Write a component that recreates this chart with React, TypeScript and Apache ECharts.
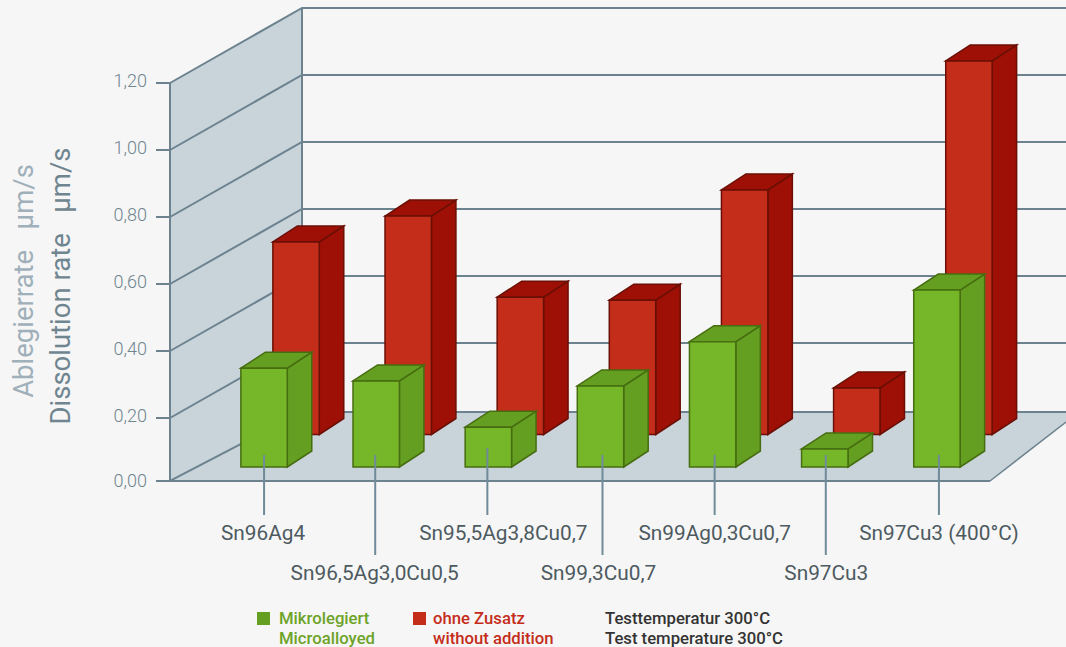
import React, { useEffect, useRef } from "react";
import * as echarts from "echarts";

const categories = ["Sn96Ag4", "Sn96,5Ag3,0Cu0,5", "Sn95,5Ag3,8Cu0,7", "Sn99,3Cu0,7", "Sn99Ag0,3Cu0,7", "Sn97Cu3", "Sn97Cu3 (400°C)"];
const microalloyed = [0.295, 0.257, 0.119, 0.242, 0.374, 0.054, 0.528];
const withoutAddition = [0.575, 0.652, 0.41, 0.401, 0.73, 0.139, 1.115];
const gridTicks = [0.2, 0.4, 0.6, 0.8, 1.0, 1.2];

const FONT = "Roboto";
const LINE = "#6c838f";
const PANEL = "#c8d3da";
const AX_LEFT = 170;
const AX_RIGHT = 990;
const BACK_DX = 132;
const BACK_DY = 75;
const FLOOR_DY = 69;
const FLOOR_VALUE = 0.012;
const BAR_W = 46.4;
const SIDE_DX = 24.5;
const SIDE_DY = 16;
const labelShift = [-2, -3, 30, -4, 4, 3, 4];
const leaderShift = [0, -1, -1, 2, 2, 1, 2];

const barRenderer = (shiftX: number, shiftY: number, front: string, dark: string, edge: string) => (_p: any, api: any) => {
  const i = api.value(0);
  const base = api.coord([i, 0]);
  const top = api.coord([i, api.value(1)]);
  const xl = base[0] + shiftX - BAR_W / 2;
  const xr = xl + BAR_W;
  const yb = base[1] - shiftY;
  const yt = top[1] - shiftY;
  const style = { lineWidth: 1.5, stroke: edge, lineJoin: "miter" };
  return {
    type: "group",
    children: [
      { type: "polygon", shape: { points: [[xr, yb], [xr + SIDE_DX, yb - SIDE_DY], [xr + SIDE_DX, yt - SIDE_DY], [xr, yt]] }, style: { ...style, fill: dark } },
      { type: "polygon", shape: { points: [[xl, yt], [xl + SIDE_DX, yt - SIDE_DY], [xr + SIDE_DX, yt - SIDE_DY], [xr, yt]] }, style: { ...style, fill: dark } },
      { type: "rect", shape: { x: xl, y: yt, width: BAR_W, height: yb - yt }, style: { ...style, fill: front } },
    ],
  };
};

const frameBack = (_p: any, api: any) => {
  const y0 = api.coord([0, FLOOR_VALUE])[1];
  const yTop = api.coord([0, 1.2])[1];
  const lineStyle = { stroke: LINE, lineWidth: 2, fill: "none" };
  const clipRight = 1066;
  const floorRightY = y0 - FLOOR_DY;
  const children: any[] = [
    { type: "polygon", shape: { points: [[AX_LEFT, yTop], [AX_LEFT + BACK_DX, yTop - BACK_DY], [AX_LEFT + BACK_DX, floorRightY], [AX_LEFT, y0]] }, style: { fill: PANEL } },
    { type: "polygon", shape: { points: [[AX_LEFT, y0], [AX_LEFT + BACK_DX, floorRightY], [clipRight, floorRightY], [clipRight, y0 - 59], [AX_RIGHT, y0]] }, style: { fill: PANEL } },
    { type: "line", shape: { x1: AX_LEFT, y1: yTop, x2: AX_LEFT, y2: y0 }, style: lineStyle },
    { type: "line", shape: { x1: AX_LEFT + BACK_DX, y1: yTop - BACK_DY, x2: AX_LEFT + BACK_DX, y2: floorRightY }, style: lineStyle },
    { type: "line", shape: { x1: AX_LEFT, y1: y0, x2: AX_LEFT + BACK_DX, y2: floorRightY }, style: lineStyle },
    { type: "line", shape: { x1: AX_LEFT + BACK_DX, y1: floorRightY, x2: clipRight, y2: floorRightY }, style: lineStyle },
    { type: "line", shape: { x1: AX_LEFT, y1: y0, x2: AX_RIGHT, y2: y0 }, style: lineStyle },
    { type: "line", shape: { x1: AX_RIGHT, y1: y0, x2: clipRight, y2: y0 - 59 }, style: { ...lineStyle, lineWidth: 1.5 } },
  ];
  gridTicks.forEach((v) => {
    const y = api.coord([0, v])[1];
    children.push({ type: "polyline", shape: { points: [[AX_LEFT, y], [AX_LEFT + BACK_DX, y - BACK_DY], [clipRight, y - BACK_DY]] }, style: lineStyle });
  });
  return { type: "group", children };
};

const leaderRenderer = (_p: any, api: any) => {
  const i = api.value(0);
  const x = api.coord([i, 0])[0] + leaderShift[i];
  const y0 = api.coord([i, 0])[1];
  const low = i % 2 === 1;
  return {
    type: "line",
    shape: { x1: x, y1: y0 - (i === 2 ? 37 : 30), x2: x, y2: y0 + (low ? 70 : 30) },
    style: { stroke: "#6f8a99", lineWidth: 2 },
  };
};

const App = () => {
  const ref = useRef<HTMLDivElement>(null);
  useEffect(() => {
    document.body.style.margin = "0";
    const chart = echarts.init(ref.current!, undefined, { renderer: "svg" });
    const rich: any = {};
    categories.forEach((_, i) => {
      const s = labelShift[i];
      rich["c" + i] = {
        fontFamily: FONT, fontSize: 20.8, color: "#4d5a60",
        padding: [i % 2 === 1 ? 40 : 0, Math.max(-s, 0), 0, Math.max(s, 0)],
      };
    });
    const axisValues = [FLOOR_VALUE, ...gridTicks];
    const legendText = { fontFamily: FONT, fontSize: 16.7, fontWeight: 500 };
    const tickText = { fontFamily: FONT, fontWeight: 300, fontSize: 18, color: "#6f8590" };
    chart.setOption({
      animation: false,
      backgroundColor: "#f6f6f6",
      grid: { left: 208, top: 83, width: 785, height: 402 },
      legend: [
        { data: [{ name: "Mikrolegiert", icon: "rect" }], left: 257, top: 610, padding: 0, itemWidth: 13, itemHeight: 13, selectedMode: false,
          textStyle: { ...legendText, color: "#6da328", padding: [0, 0, 0, 4] } },
        { data: [{ name: "ohne Zusatz", icon: "rect" }], left: 413, top: 610, padding: 0, itemWidth: 13, itemHeight: 13, selectedMode: false,
          textStyle: { ...legendText, color: "#c42d1a", padding: [0, 0, 0, 2] } },
      ],
      xAxis: {
        type: "category",
        data: categories,
        axisLine: { show: false },
        axisTick: { show: false },
        axisLabel: {
          interval: 0,
          margin: 37,
          formatter: (value: string, index: number) => `{c${index}|${value}}`,
          rich,
        },
      },
      yAxis: {
        type: "value",
        min: 0,
        max: 1.2,
        interval: 0.2,
        offset: 38,
        splitLine: { show: false },
        axisLine: { show: false },
        axisTick: { show: true, length: 14, customValues: axisValues, lineStyle: { color: LINE, width: 2 } },
        axisLabel: {
          margin: 23,
          customValues: axisValues,
          ...tickText,
          rich: {
            zero: { ...tickText },
            tick: { ...tickText, padding: [0, 0, 5, 0] },
          },
          formatter: (v: number) => {
            const text = (Math.round(v * 5) / 5).toFixed(2).replace(".", ",");
            return v < 0.1 ? `{zero|${text}}` : `{tick|${text}}`;
          },
        },
      },
      graphic: [
        { type: "text", x: 23, y: 281, rotation: Math.PI / 2, style: { text: "Ablegierrate   µm/s", fontFamily: FONT, fontSize: 27.5, fontWeight: 400, fill: "#9fb0ba", align: "center", verticalAlign: "middle" } },
        { type: "text", x: 60, y: 286, rotation: Math.PI / 2, style: { text: "Dissolution rate   µm/s", fontFamily: FONT, fontSize: 27.5, fontWeight: 400, fill: "#6f8590", align: "center", verticalAlign: "middle" } },
        { type: "text", x: 279, y: 638, style: { ...legendText, text: "Microalloyed", fill: "#6da328", verticalAlign: "middle" } },
        { type: "text", x: 433, y: 638, style: { ...legendText, text: "without addition", fill: "#c42d1a", verticalAlign: "middle" } },
        { type: "text", x: 605, y: 618, style: { ...legendText, text: "Testtemperatur 300°C", fill: "#333333", verticalAlign: "middle" } },
        { type: "text", x: 605, y: 638, style: { ...legendText, text: "Test temperature 300°C", fill: "#333333", verticalAlign: "middle" } },
      ],
      series: [
        { type: "custom", name: "frame", silent: true, data: [[0, 0]], renderItem: frameBack, encode: { x: 0, y: 1 }, z: 1 },
        { type: "custom", name: "ohne Zusatz", data: withoutAddition.map((v, i) => [i, v]), renderItem: barRenderer(32, 50.5, "#c42d1a", "#9e1005", "#6a0f05"), encode: { x: 0, y: 1 }, itemStyle: { color: "#c42d1a" }, z: 2 },
        { type: "custom", name: "Mikrolegiert", data: microalloyed.map((v, i) => [i, v]), renderItem: barRenderer(0, 18, "#76b72a", "#659f22", "#466d10"), encode: { x: 0, y: 1 }, itemStyle: { color: "#659f22" }, z: 3 },
        { type: "custom", name: "leaders", silent: true, data: categories.map((_, i) => [i, 0]), renderItem: leaderRenderer, encode: { x: 0, y: 1 }, z: 4 },
      ],
    });
    return () => chart.dispose();
  }, []);
  return <div ref={ref} style={{ width: 1066, height: 647, position: "absolute", left: 0, top: 0 }} />;
};

export default App;
